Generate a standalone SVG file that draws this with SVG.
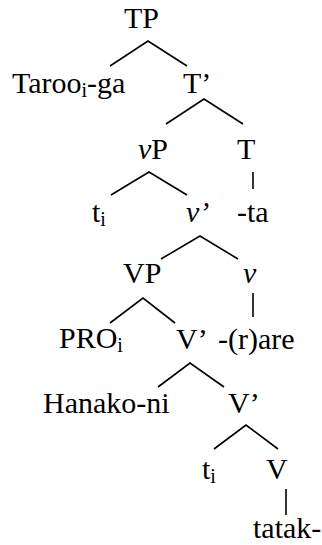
<svg xmlns="http://www.w3.org/2000/svg" width="322" height="545" viewBox="0 0 322 545">
  <style>
    text { font-family: 'Liberation Serif', 'DejaVu Serif', serif; font-size: 30px; fill: #000; }
    .it { font-style: italic; }
    .sub { font-size: 20px; }
    .edge { stroke: #000; stroke-width: 1.6; fill: none; stroke-linecap: butt; }
  </style>
  <rect width="322" height="545" fill="#fff"/>

  <!-- branches of the tree -->
  <g id="connectors">
    <polyline class="edge" points="110,66 148,41 187,66"/>
    <polyline class="edge" points="166,124 204,99 243,124"/>
    <line class="edge" x1="253" y1="172" x2="253" y2="189"/>
    <polyline class="edge" points="111,195 149,172 187,195"/>
    <polyline class="edge" points="161,259 200,236 238,259"/>
    <line class="edge" x1="253" y1="293" x2="253" y2="317"/>
    <polyline class="edge" points="110,323 143,298 175,323"/>
    <polyline class="edge" points="158,387 190,363 224,387"/>
    <polyline class="edge" points="214,449 246,425 278,449"/>
    <line class="edge" x1="286" y1="489" x2="286" y2="515"/>
  </g>

  <g id="TP"><text x="124" y="28" font-family="Liberation Serif">TP</text></g>
  <g id="Taroo-ga"><text x="12" y="93" font-family="Liberation Serif">Taroo<tspan class="sub" dy="4">i</tspan><tspan dy="-4">-ga</tspan></text></g>
  <g id="Tbar"><text x="183" y="93" font-family="Liberation Serif">T’</text></g>
  <g id="vP"><text x="138" y="159" font-family="Liberation Serif"><tspan class="it">v</tspan>P</text></g>
  <g id="T"><text x="237" y="159" font-family="Liberation Serif">T</text></g>
  <g id="t1"><text x="92" y="222" font-family="Liberation Serif">t<tspan class="sub" dy="4">i</tspan></text></g>
  <g id="vbar"><text x="186" y="222" class="it" font-family="Liberation Serif">v’</text></g>
  <g id="ta"><text x="237" y="222" font-family="Liberation Serif">-ta</text></g>
  <g id="VP"><text x="123" y="283" font-family="Liberation Serif">VP</text></g>
  <g id="v"><text x="243" y="283" class="it" font-family="Liberation Serif">v</text></g>
  <g id="PRO"><text x="59" y="348" font-family="Liberation Serif">PRO<tspan class="sub" dy="4">i</tspan></text></g>
  <g id="Vbar1"><text x="176" y="349" font-family="Liberation Serif">V’</text></g>
  <g id="rare"><text x="218" y="349" font-family="Liberation Serif">-(r)are</text></g>
  <g id="Hanako-ni"><text x="43" y="413" font-family="Liberation Serif">Hanako-ni</text></g>
  <g id="Vbar2"><text x="228" y="413" font-family="Liberation Serif">V’</text></g>
  <g id="t2"><text x="202" y="479" font-family="Liberation Serif">t<tspan class="sub" dy="4">i</tspan></text></g>
  <g id="V"><text x="266" y="479" font-family="Liberation Serif">V</text></g>
  <g id="tatak"><text x="253" y="538" font-family="Liberation Serif">tatak-</text></g>
</svg>
